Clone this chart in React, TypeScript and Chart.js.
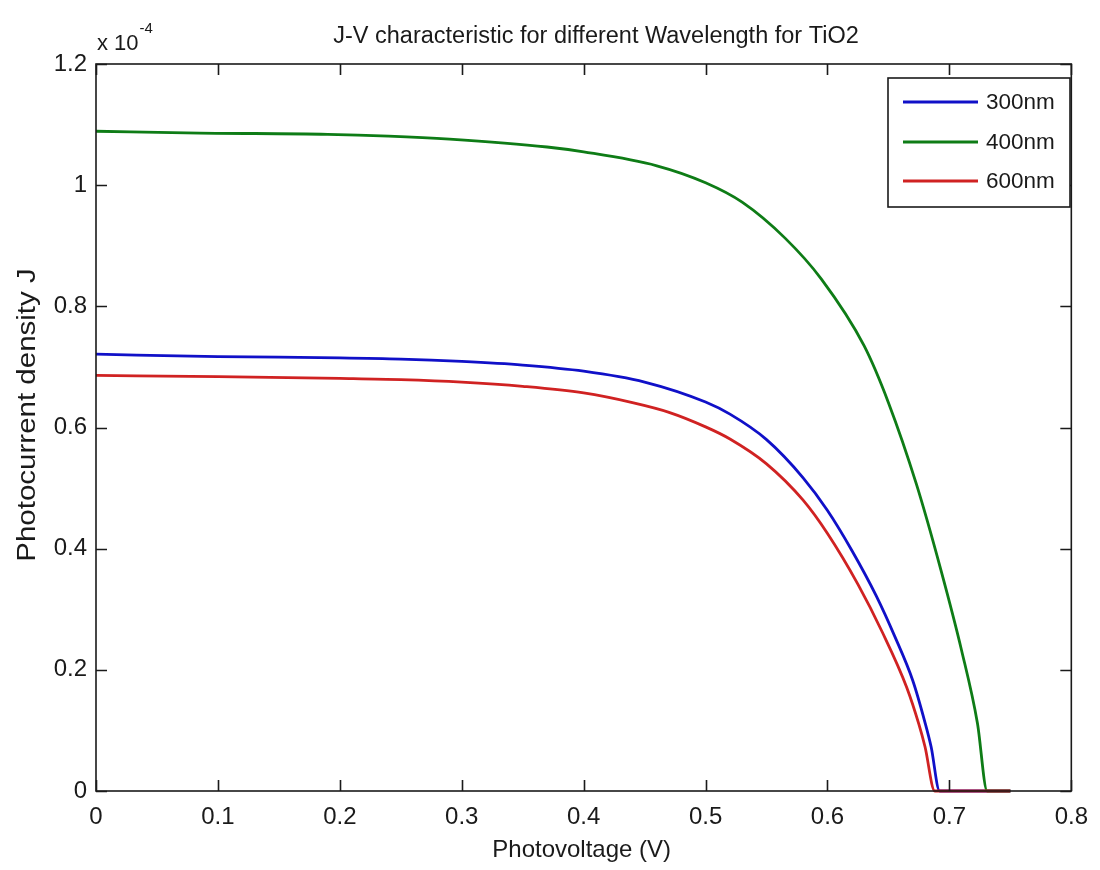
import React, { useEffect, useRef } from "react";
import { Chart, registerables } from "chart.js";

Chart.register(...registerables);

// Photocurrent density J in units of 1e-4 (axis shows "x 10^-4")
const TITLE = "J-V characteristic for different Wavelength for TiO2";
const X_LABEL = "Photovoltage (V)";
const Y_LABEL = "Photocurrent density J";
const SERIES_LABELS = ["300nm", "400nm", "600nm"];
const SERIES_COLORS = ["#1010c8", "#0e7c16", "#d02222"];

const v300 = [0, 0.1, 0.2, 0.25, 0.3, 0.35, 0.4, 0.45, 0.5, 0.52, 0.55, 0.58, 0.6, 0.62, 0.64, 0.655, 0.67, 0.68, 0.685, 0.692, 0.75];
const j300 = [0.721, 0.717, 0.715, 0.713, 0.709, 0.703, 0.693, 0.675, 0.642, 0.622, 0.58, 0.517, 0.463, 0.397, 0.322, 0.256, 0.182, 0.113, 0.073, 0, 0];

const v400 = [0, 0.085, 0.19, 0.24, 0.29, 0.37, 0.4, 0.46, 0.5, 0.53, 0.565, 0.595, 0.63, 0.65, 0.673, 0.693, 0.71, 0.723, 0.731, 0.75];
const j400 = [1.089, 1.086, 1.084, 1.081, 1.076, 1.063, 1.055, 1.032, 1.004, 0.972, 0.913, 0.845, 0.735, 0.641, 0.506, 0.365, 0.232, 0.112, 0, 0];

const v600 = [0, 0.1, 0.2, 0.25, 0.3, 0.35, 0.4, 0.44, 0.47, 0.5, 0.52, 0.55, 0.58, 0.6, 0.625, 0.645, 0.665, 0.675, 0.68, 0.688, 0.75];
const j600 = [0.686, 0.684, 0.681, 0.679, 0.675, 0.668, 0.657, 0.641, 0.625, 0.601, 0.581, 0.54, 0.48, 0.425, 0.341, 0.262, 0.171, 0.11, 0.073, 0, 0];

const X_MIN = 0, X_MAX = 0.8, X_STEP = 0.1;
const Y_MIN = 0, Y_MAX = 1.2, Y_STEP = 0.2;

const FONT = '"Liberation Sans", Arial, Helvetica, sans-serif';

const pairs = (xs: number[], ys: number[]) => xs.map((x, i) => ({ x, y: ys[i] }));

const framePlugin = {
  id: "frame",
  beforeDraw(chart: any) {
    const { ctx, width, height } = chart;
    ctx.save();
    ctx.fillStyle = "#ffffff";
    ctx.fillRect(0, 0, width, height);
    ctx.restore();
  },
  afterDraw(chart: any) {
    const { ctx, chartArea, scales } = chart;
    const { left, right, top, bottom } = chartArea;
    const xs = scales.x;
    const ys = scales.y;
    ctx.save();
    ctx.strokeStyle = "#1a1a1a";
    ctx.lineWidth = 1.6;
    ctx.strokeRect(left, top, right - left, bottom - top);
    const TL = 11;
    ctx.beginPath();
    xs.ticks.forEach((t: any) => {
      const px = Math.round(xs.getPixelForValue(t.value)) + 0.5;
      ctx.moveTo(px, bottom);
      ctx.lineTo(px, bottom - TL);
      ctx.moveTo(px, top);
      ctx.lineTo(px, top + TL);
    });
    ys.ticks.forEach((t: any) => {
      const py = Math.round(ys.getPixelForValue(t.value)) + 0.5;
      ctx.moveTo(left, py);
      ctx.lineTo(left + TL, py);
      ctx.moveTo(right, py);
      ctx.lineTo(right - TL, py);
    });
    ctx.stroke();

    // title
    ctx.fillStyle = "#1a1a1a";
    ctx.font = `23.5px ${FONT}`;
    ctx.textAlign = "center";
    ctx.textBaseline = "middle";
    ctx.fillText(TITLE, 596, 37);

    // exponent label
    ctx.textAlign = "left";
    ctx.textBaseline = "alphabetic";
    ctx.font = `22px ${FONT}`;
    ctx.fillText("x 10", left + 1, 50);
    const w = ctx.measureText("x 10").width;
    ctx.font = `15px ${FONT}`;
    ctx.fillText("-4", left + 1 + w + 1, 33);

    // x axis title
    ctx.font = `24px ${FONT}`;
    ctx.textAlign = "center";
    ctx.textBaseline = "alphabetic";
    ctx.fillText(X_LABEL, (left + right) / 2 - 2, 857);

    // y axis title (stretched along its direction like the source rendering)
    ctx.save();
    ctx.translate(35, 415);
    ctx.rotate(-Math.PI / 2);
    ctx.scale(1.18, 1);
    ctx.font = `25px ${FONT}`;
    ctx.textAlign = "center";
    ctx.textBaseline = "alphabetic";
    ctx.fillText(Y_LABEL, 0, 0);
    ctx.restore();

    // legend
    const lx = 888, ly = 78, lw = 182, lh = 129;
    ctx.fillStyle = "#ffffff";
    ctx.fillRect(lx, ly, lw, lh);
    ctx.strokeStyle = "#1a1a1a";
    ctx.lineWidth = 1.6;
    ctx.strokeRect(lx, ly, lw, lh);
    const rows = [102, 142, 181];
    chart.data.datasets.forEach((ds: any, i: number) => {
      const yy = rows[i];
      ctx.strokeStyle = ds.borderColor;
      ctx.lineWidth = 3;
      ctx.beginPath();
      ctx.moveTo(903, yy);
      ctx.lineTo(978, yy);
      ctx.stroke();
      ctx.fillStyle = "#1a1a1a";
      ctx.font = `22.5px ${FONT}`;
      ctx.textAlign = "left";
      ctx.textBaseline = "middle";
      ctx.fillText(ds.label, 986, yy + 1);
    });
    ctx.restore();
  },
};

export default function App() {
  const ref = useRef<HTMLCanvasElement | null>(null);
  useEffect(() => {
    if (!ref.current) return;
    const series = [pairs(v300, j300), pairs(v400, j400), pairs(v600, j600)];
    const chart = new Chart(ref.current, {
      type: "line",
      data: {
        datasets: series.map((d, i) => ({
          label: SERIES_LABELS[i],
          data: d,
          borderColor: SERIES_COLORS[i],
          backgroundColor: SERIES_COLORS[i],
          borderWidth: 2.8,
          pointRadius: 0,
          fill: false,
          cubicInterpolationMode: "monotone" as const,
          clip: false as any,
          order: 3 - i,
        })),
      },
      options: {
        responsive: false,
        animation: false,
        layout: { padding: { top: 64, right: 19, left: 0, bottom: 0 } },
        plugins: {
          legend: { display: false },
          title: { display: false },
          tooltip: { enabled: false },
        },
        scales: {
          x: {
            type: "linear",
            min: X_MIN,
            max: X_MAX,
            grid: { display: false, drawTicks: false },
            border: { display: false },
            ticks: {
              stepSize: X_STEP,
              padding: 12,
              color: "#1a1a1a",
              font: { family: FONT, size: 24 },
              maxRotation: 0,
              autoSkip: false,
              callback: (v: any) => String(Number(Number(v).toFixed(1))),
            },
            afterFit: (s: any) => {
              s.height = 79;
            },
          },
          y: {
            type: "linear",
            min: Y_MIN,
            max: Y_MAX,
            grid: { display: false, drawTicks: false },
            border: { display: false },
            ticks: {
              stepSize: Y_STEP,
              padding: 9,
              color: "#1a1a1a",
              font: { family: FONT, size: 24 },
              autoSkip: false,
              callback: (v: any) => String(Number(Number(v).toFixed(1))),
            },
            afterFit: (s: any) => {
              s.width = 96;
            },
          },
        },
      },
      plugins: [framePlugin],
    });
    return () => chart.destroy();
  }, []);
  return (
    <div style={{ position: "fixed", left: 0, top: 0, width: 1100, height: 870, background: "#fff" }}>
      <canvas ref={ref} width={1100} height={870} style={{ display: "block" }} />
    </div>
  );
}
